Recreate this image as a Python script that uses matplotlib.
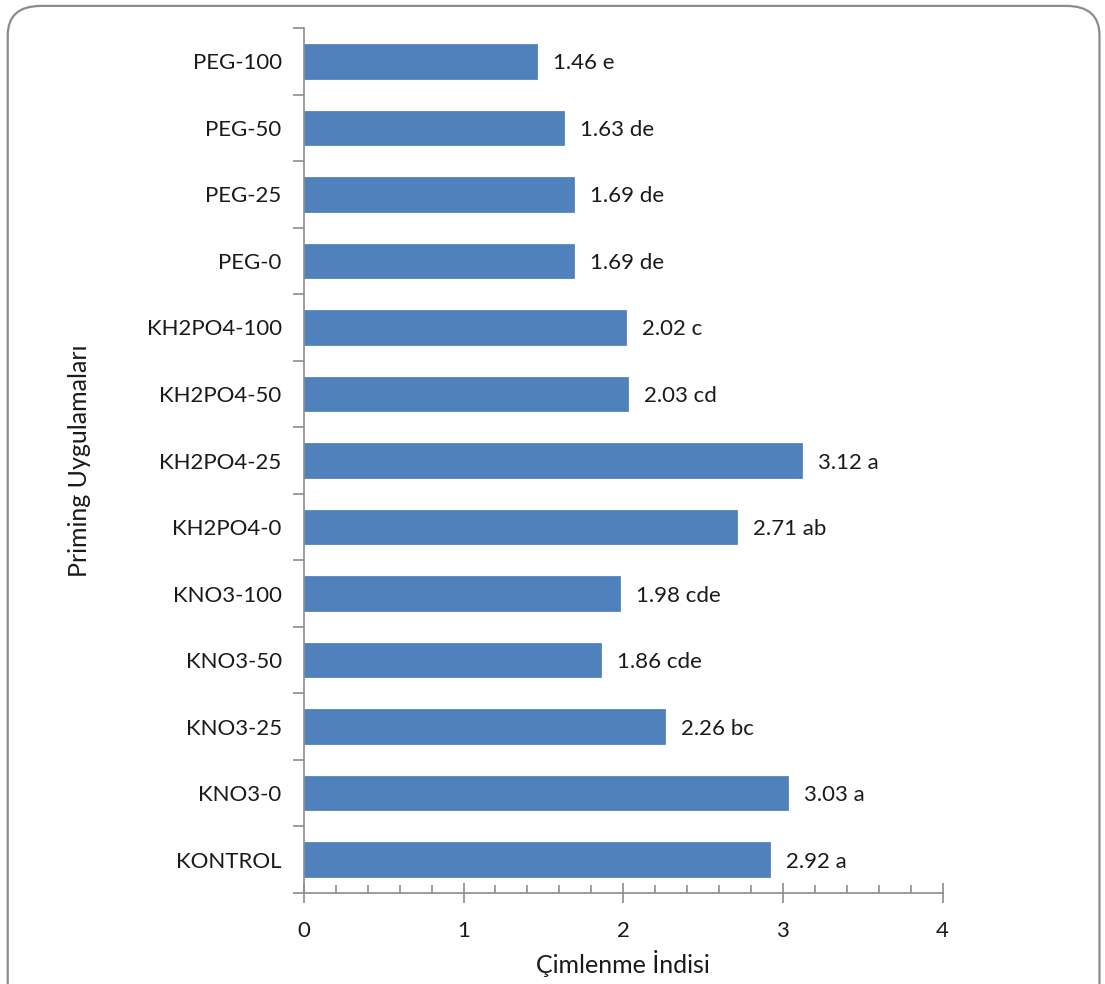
import numpy as np
import matplotlib.pyplot as plt
from matplotlib.patches import FancyBboxPatch
from matplotlib.ticker import MultipleLocator

# Treatments, bottom to top as drawn
treatments = ['KONTROL', 'KNO3-0', 'KNO3-25', 'KNO3-50', 'KNO3-100',
              'KH2PO4-0', 'KH2PO4-25', 'KH2PO4-50', 'KH2PO4-100',
              'PEG-0', 'PEG-25', 'PEG-50', 'PEG-100']
values = [2.92, 3.03, 2.26, 1.86, 1.98,
          2.71, 3.12, 2.03, 2.02,
          1.69, 1.69, 1.63, 1.46]
letters = ['a', 'a', 'bc', 'cde', 'cde',
           'ab', 'a', 'cd', 'c',
           'de', 'de', 'de', 'e']

plt.rcParams['font.family'] = ['Lato', 'DejaVu Sans']

fig = plt.figure(figsize=(11.05, 9.84), dpi=100)

# rounded chart-area frame
frame = FancyBboxPatch((0.007, -0.05), 0.988, 1.044, transform=fig.transFigure,
                       boxstyle='round,pad=0,rounding_size=0.03',
                       facecolor='none', edgecolor='#8c8c8c', linewidth=1.6,
                       zorder=0)
fig.patches.append(frame)

ax = fig.add_axes([0.275, 0.0925, 0.578, 0.879])
ax.patch.set_alpha(0)
y = np.arange(len(treatments))
ax.barh(y, values, height=0.52, color='#4f81bd', edgecolor='#4a7ab4', linewidth=0.5)

for yi, v, l in zip(y, values, letters):
    ax.text(v + 0.1, yi - 0.03, f'{v:.2f} {l}', va='center', ha='left', fontsize=16, color='#1a1a1a')

ax.set_xlim(0, 4)
ax.set_ylim(-0.5, len(treatments) - 0.5)
ax.xaxis.set_major_locator(MultipleLocator(1))
ax.xaxis.set_minor_locator(MultipleLocator(0.2))
ax.set_yticks(y)
ax.set_yticklabels(treatments)
ax.set_yticks(np.arange(-0.5, len(treatments)), minor=True)

for s in ['top', 'right']:
    ax.spines[s].set_visible(False)
for s in ['left', 'bottom']:
    ax.spines[s].set_color('#8c8c8c')
    ax.spines[s].set_linewidth(1.2)

ax.tick_params(axis='y', which='major', length=0, pad=16, labelsize=16, labelcolor='#1a1a1a')
ax.tick_params(axis='y', which='minor', length=8, color='#8c8c8c', width=1.2)
ax.tick_params(axis='x', which='major', direction='inout', length=14, color='#8c8c8c', width=1.2,
               labelsize=16, labelcolor='#1a1a1a', pad=13)
ax.tick_params(axis='x', which='minor', direction='in', length=6, color='#8c8c8c', width=1.2)

ax.set_xlabel('Çimlenme İndisi', fontsize=18, color='#1a1a1a', labelpad=7)
ax.set_ylabel('Priming Uygulamaları', fontsize=18, color='#1a1a1a', labelpad=40)

fig.savefig('out.png', dpi=100)
